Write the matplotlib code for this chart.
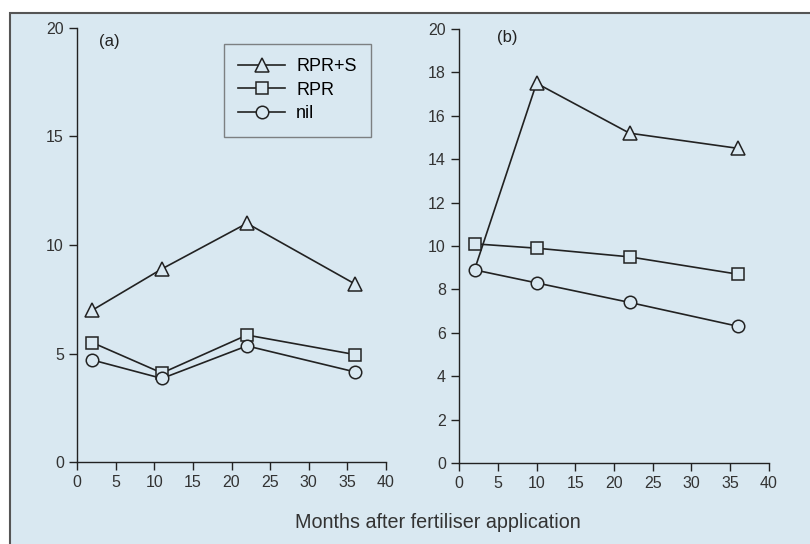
import matplotlib.pyplot as plt
from matplotlib.patches import Rectangle

plt.rcParams['font.family'] = ['Liberation Sans', 'DejaVu Sans']

# data
months_a = [2, 11, 22, 36]
rprs_a = [7.0, 8.9, 11.0, 8.2]
rpr_a = [5.5, 4.1, 5.85, 4.95]
nil_a = [4.7, 3.85, 5.35, 4.15]

months_b = [2, 10, 22, 36]
rprs_b = [8.9, 17.5, 15.2, 14.5]
rpr_b = [10.1, 9.9, 9.5, 8.7]
nil_b = [8.9, 8.3, 7.4, 6.3]

bg = '#d9e8f1'
ink = '#222222'

fig = plt.figure(figsize=(8.1, 5.44), dpi=100)
fig.patch.set_facecolor('white')
# light blue box with a grey top/left border
fig.patches.append(Rectangle((10 / 810, -0.05), 1.05, 1 - 13 / 544 + 0.05,
                             transform=fig.transFigure, facecolor=bg,
                             edgecolor='#555555', linewidth=1.5, zorder=-10))

ax1 = fig.add_axes([77 / 810, 82 / 544, 309 / 810, 434 / 544])
ax2 = fig.add_axes([459 / 810, 81 / 544, 310 / 810, 434 / 544])


def style(ax, yticks):
    ax.set_facecolor('none')
    ax.set_xlim(0, 40)
    ax.set_ylim(0, 20)
    ax.set_xticks(range(0, 41, 5))
    ax.set_yticks(yticks)
    for s in ['top', 'right']:
        ax.spines[s].set_visible(False)
    for s in ['left', 'bottom']:
        ax.spines[s].set_color(ink)
        ax.spines[s].set_linewidth(1.0)
    ax.tick_params(direction='out', length=5.5, width=1.0, colors=ink,
                   labelsize=11.5, labelcolor='#333333', pad=4)


kw = dict(color=ink, lw=1.2, mfc=bg, mec=ink, mew=1.1, zorder=3)

ax1.plot(months_a, rprs_a, marker='^', ms=10, label='RPR+S', **kw)
ax1.plot(months_a, rpr_a, marker='s', ms=8, label='RPR', **kw)
ax1.plot(months_a, nil_a, marker='o', ms=9, label='nil', **kw)
style(ax1, range(0, 21, 5))
ax1.text(2.85, 19.4, '(a)', fontsize=12, color='#222222', va='center')
leg = ax1.legend(loc='upper left', bbox_to_anchor=(147 / 309, 418 / 434),
                 frameon=True, fancybox=False, edgecolor='#666666',
                 facecolor=bg, fontsize=13, handlelength=2.6, borderpad=0.8,
                 labelspacing=0.35, handletextpad=0.6, borderaxespad=0)
leg.get_frame().set_linewidth(1.0)

ax2.plot(months_b, rprs_b, marker='^', ms=10, markevery=[1, 2, 3], **kw)
ax2.plot(months_b, rpr_b, marker='s', ms=8, **kw)
ax2.plot(months_b, nil_b, marker='o', ms=9, **kw)
style(ax2, range(0, 21, 2))
ax2.text(4.9, 19.6, '(b)', fontsize=12, color='#222222', va='center')

fig.text(438 / 810, 1 - 522 / 544, 'Months after fertiliser application',
         ha='center', va='center', fontsize=14.2, color='#333333')

fig.savefig('out.png', dpi=100)
